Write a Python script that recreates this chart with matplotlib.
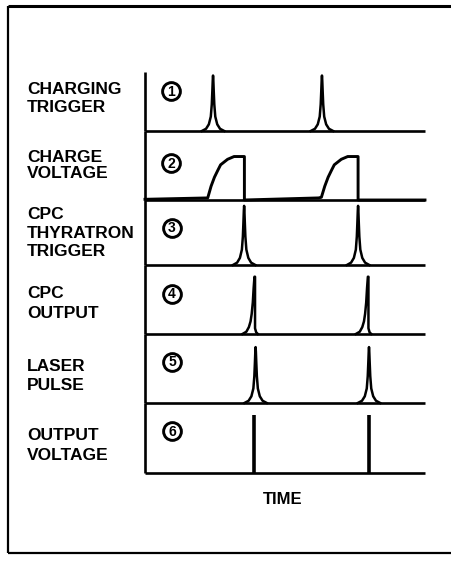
import matplotlib
matplotlib.use("Agg")
import matplotlib.pyplot as plt

W, H = 451, 563
DPI = 100

# ---------------- data ----------------
panel_labels = [
    ["CHARGING", "TRIGGER"],
    ["CHARGE", "VOLTAGE"],
    ["CPC", "THYRATRON", "TRIGGER"],
    ["CPC", "OUTPUT"],
    ["LASER", "PULSE"],
    ["OUTPUT", "VOLTAGE"],
]
panel_numbers = ["1", "2", "3", "4", "5", "6"]
x_label = "TIME"

# time axis runs 0..100
charging_trigger_times = [24.3, 63.2]
charging_trigger_amp = 0.94

# charge voltage: ramp up, hold, sudden drop (two cycles)
charge_t = [0.0, 22.4, 23.6, 24.8, 26.0, 27.0, 29.5, 31.8, 35.5, 35.5,
            62.0, 63.0, 64.2, 65.4, 66.6, 67.6, 70.1, 72.4, 76.1, 76.1, 100.0]
charge_v = [0.01, 0.03, 0.20, 0.33, 0.43, 0.51, 0.59, 0.63, 0.63, 0.0,
            0.03, 0.04, 0.20, 0.33, 0.43, 0.51, 0.59, 0.63, 0.63, 0.0, 0.0]

thyratron_trigger_times = [35.4, 76.1]
thyratron_trigger_amp = 0.91

cpc_output_times = [39.1, 79.6]
cpc_output_amp = 0.83

laser_pulse_times = [39.5, 80.0]
laser_pulse_amp = 0.81

output_voltage_times = [39.0, 80.0]
output_voltage_amp = 0.83

# symmetric spike profile (offset in time units, fraction of peak)
spike_dt = [-4.0, -2.5, -1.5, -0.8, -0.45, -0.25, -0.1, 0.0,
            0.1, 0.25, 0.45, 0.8, 1.5, 2.5, 4.0]
spike_rel = [0.0, 0.04, 0.12, 0.26, 0.48, 0.72, 0.92, 1.0,
             0.92, 0.72, 0.48, 0.26, 0.12, 0.04, 0.0]

# asymmetric CPC output profile
cpc_dt = [-4.3, -2.9, -2.0, -1.4, -1.0, -0.6, -0.3, 0.0, 0.2, 0.2, 0.6, 1.2]
cpc_rel = [0.0, 0.04, 0.12, 0.22, 0.35, 0.55, 0.8, 1.0, 1.0, 0.1, 0.03, 0.0]

# ---------------- layout (pixels) ----------------
ax_left_px, ax_right_px = 145, 425
panel_tops = [72, 131, 200, 265, 334, 403]
panel_bots = [131, 200, 265, 334, 403, 473]
label_x_px = 27
label_y_px = [[90, 107.5], [157, 174], [214.5, 233.5, 251.5],
              [293, 313], [366.5, 385], [436, 455]]
num_xy_px = [(171, 91), (171, 163), (172, 227.5), (172, 294), (172, 361.5), (172, 431)]
time_xy_px = (283, 500)

LW_SIG = 1.8
LW_AX = 1.9
TXT = dict(family=["Liberation Sans", "DejaVu Sans"], weight="bold", color="black")


def fx(x):
    return x / W


def fy(y):
    return 1 - y / H


fig = plt.figure(figsize=(W / DPI, H / DPI), dpi=DPI)
fig.patch.set_facecolor("white")

# overlay in pixel coordinates for frame, labels and circled numbers
ov = fig.add_axes([0, 0, 1, 1])
ov.set_xlim(0, W)
ov.set_ylim(H, 0)
ov.axis("off")
ov.set_zorder(3)
ov.patch.set_alpha(0)

axes = []
for top, bot in zip(panel_tops, panel_bots):
    ax = fig.add_axes([fx(ax_left_px), fy(bot), fx(ax_right_px) - fx(ax_left_px),
                       fy(top) - fy(bot)])
    ax.set_xlim(0, 100)
    ax.set_ylim(0, 1)
    for s in ("top", "right"):
        ax.spines[s].set_visible(False)
    for s in ("left", "bottom"):
        ax.spines[s].set_linewidth(LW_AX)
        ax.spines[s].set_capstyle("butt")
    ax.set_xticks([])
    ax.set_yticks([])
    ax.patch.set_alpha(0)
    axes.append(ax)


def draw_spikes(ax, times, amp, dt, rel):
    for t0 in times:
        xs = [t0 + d for d in dt]
        ys = [amp * r for r in rel]
        ax.plot(xs, ys, color="black", lw=LW_SIG, solid_joinstyle="round",
                clip_on=False)


draw_spikes(axes[0], charging_trigger_times, charging_trigger_amp, spike_dt, spike_rel)
axes[1].plot(charge_t, charge_v, color="black", lw=LW_SIG + 0.3, clip_on=False,
             solid_joinstyle="round")
draw_spikes(axes[2], thyratron_trigger_times, thyratron_trigger_amp, spike_dt, spike_rel)
draw_spikes(axes[3], cpc_output_times, cpc_output_amp, cpc_dt, cpc_rel)
draw_spikes(axes[4], laser_pulse_times, laser_pulse_amp, spike_dt, spike_rel)
for t0 in output_voltage_times:
    axes[5].plot([t0, t0], [0, output_voltage_amp], color="black", lw=2.6,
                 solid_capstyle="butt")

# labels
for lines, ys in zip(panel_labels, label_y_px):
    for txt, y in zip(lines, ys):
        ov.text(label_x_px, y, txt, ha="left", va="center", fontsize=12.5, **TXT)

for num, (x, y) in zip(panel_numbers, num_xy_px):
    ov.plot([x], [y], marker="o", ms=12.8, mfc="white", mec="black", mew=2.1)
    ov.text(x, y + 0.5, num, ha="center", va="center", fontsize=10, **TXT)

ov.text(time_xy_px[0], time_xy_px[1], x_label, ha="center", va="center",
        fontsize=12, **TXT)

# outer frame (top, left, bottom)
ov.plot([8, W], [6, 6], color="black", lw=2.2, solid_capstyle="butt")
ov.plot([8, 8], [6, 553], color="black", lw=1.6, solid_capstyle="butt")
ov.plot([8, W], [553, 553], color="black", lw=1.6, solid_capstyle="butt")

fig.savefig("out.png", dpi=DPI, facecolor="white")
